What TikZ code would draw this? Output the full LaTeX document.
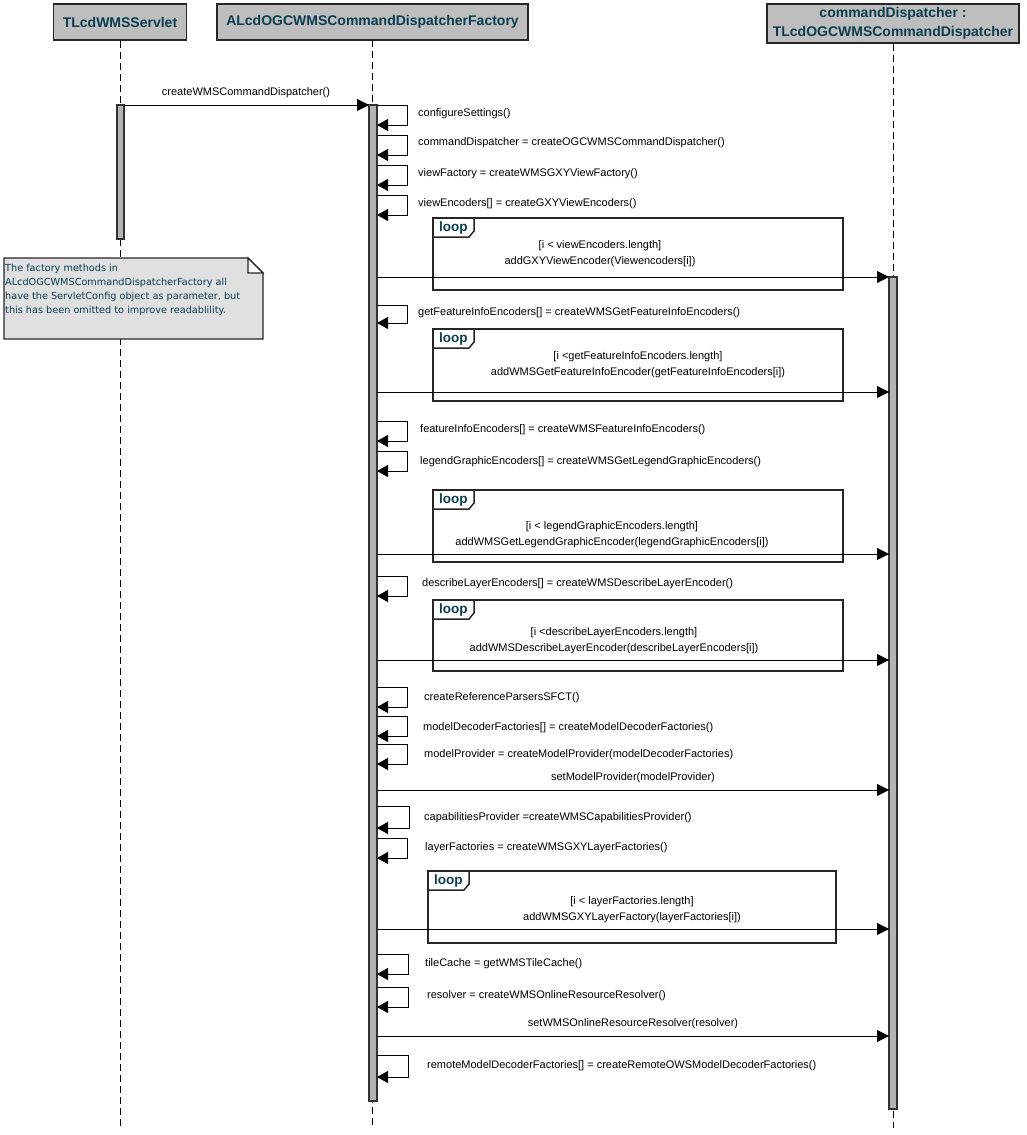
\documentclass[tikz,border=0pt]{standalone}
\usepackage{fontspec}
\setmainfont{Liberation Sans}
\newfontfamily\notefont{DejaVu Sans}
\usetikzlibrary{arrows.meta}
\definecolor{bleunuit}{HTML}{0A3D50}
\definecolor{gristete}{HTML}{BEBEBE}
\definecolor{grisbarre}{HTML}{B4B4B4}
\definecolor{grisnote}{HTML}{E0E0E0}

\begin{document}
\begin{tikzpicture}[x=1pt,y=-1pt,
  tete/.style={draw=black!85,line width=1.6pt,fill=gristete,text=bleunuit,
    font=\bfseries\fontsize{14}{19}\selectfont,inner sep=0pt,align=center},
  vie/.style={line width=0.8pt,dash pattern=on 7pt off 4pt},
  barre/.style={draw=black!80,line width=1.3pt,fill=grisbarre},
  fleche/.style={line width=0.9pt,-{Triangle[length=12pt,width=12pt]}},
  appel/.style={line width=0.9pt,-{Triangle[length=11pt,width=12pt]}},
  lbl/.style={font=\fontsize{11}{16}\selectfont,inner sep=0pt,anchor=west},
  garde/.style={font=\fontsize{11}{16}\selectfont,inner sep=0pt,align=center},
  cadre/.style={draw=black!85,line width=1.5pt},
  etiq/.style={font=\bfseries\fontsize{13.5}{15}\selectfont,text=bleunuit,inner sep=0pt,anchor=west}]
  \useasboundingbox (0,0) rectangle (1026,1135);
  % objets
  \node[tete,minimum width=133pt,minimum height=36pt] (servlet) at (120,22) {TLcdWMSServlet};
  \node[tete,minimum width=311pt,minimum height=36pt] (usine) at (372.5,22) {ALcdOGCWMSCommandDispatcherFactory};
  \node[tete,minimum width=252pt,minimum height=39pt] (disp) at (893,23.5) {commandDispatcher :\\TLcdOGCWMSCommandDispatcher};
  % lignes de vie
  \coordinate (fin) at (0,1128);
  \draw[vie] (servlet.south) -- (servlet.south |- fin);
  \draw[vie] (372,40) coordinate (u0) -- (u0 |- fin);
  \draw[vie] (disp.south) -- (disp.south |- fin);
  % note
  \draw[draw=black!85,line width=1.2pt,fill=grisnote] (4,258) -- (248,258) -- (263,273) -- (263,339) -- (4,339) -- cycle;
  \draw[draw=black!85,line width=1.2pt,fill=white] (248,258) -- (263,273) -- (248,273) -- cycle;
  \node[anchor=north west,inner sep=0pt,align=left,text=bleunuit,font=\notefont\fontsize{9.7}{14}\selectfont] (note) at (5,264)
    {The factory methods in\\ALcdOGCWMSCommandDispatcherFactory all\\have the ServletConfig object as parameter, but\\this has been omitted to improve readablility.};
  % activations
  \draw[barre] (117,105) rectangle (124,239);
  \draw[barre] (369,105) rectangle (377,1101);
  \draw[barre] (889,277) rectangle (897,1109);
  % premier message
  \coordinate (m0a) at (124,105); \coordinate (m0b) at (369,105);
  \draw[fleche] (m0a) -- (m0b);
  \node[garde] (t0) at (246,93) {createWMSCommandDispatcher()};
  % appels internes
  \coordinate (a1) at (377,105); \coordinate (b1) at (377,125);
  \draw[appel] (a1) -- ++(30,0) |- (b1);
  \node[lbl] (l1) at (418,114) {configureSettings()};
  \coordinate (a2) at (377,135); \coordinate (b2) at (377,155);
  \draw[appel] (a2) -- ++(30,0) |- (b2);
  \node[lbl] (l2) at (418,143) {commandDispatcher = createOGCWMSCommandDispatcher()};
  \coordinate (a3) at (377,165); \coordinate (b3) at (377,185);
  \draw[appel] (a3) -- ++(30,0) |- (b3);
  \node[lbl] (l3) at (418,174) {viewFactory = createWMSGXYViewFactory()};
  \coordinate (a4) at (377,195); \coordinate (b4) at (377,215);
  \draw[appel] (a4) -- ++(30,0) |- (b4);
  \node[lbl] (l4) at (418,204) {viewEncoders[] = createGXYViewEncoders()};
  % boucle 1
  \draw[cadre] (433,218) rectangle (843,290);
  \draw[cadre,fill=white] (433,218) -- ++(41,0) -- ++(0,13) -- ++(-5,6) -- ++(-36,0) -- cycle;
  \node[etiq] (g1) at (439,228) {loop};
  \node[garde] (c1) at (600,254) {[i < viewEncoders.length]\\addGXYViewEncoder(Viewencoders[i])};
  \coordinate (m1a) at (377,277); \coordinate (m1b) at (889,277);
  \draw[fleche] (m1a) -- (m1b);
  \coordinate (a5) at (377,305); \coordinate (b5) at (377,323);
  \draw[appel] (a5) -- ++(30,0) |- (b5);
  \node[lbl] (l5) at (418,313) {getFeatureInfoEncoders[] = createWMSGetFeatureInfoEncoders()};
  % boucle 2
  \draw[cadre] (433,329) rectangle (843,401);
  \draw[cadre,fill=white] (433,329) -- ++(41,0) -- ++(0,13) -- ++(-5,6) -- ++(-36,0) -- cycle;
  \node[etiq] (g2) at (439,339) {loop};
  \node[garde] (c2) at (638,365) {[i <getFeatureInfoEncoders.length]\\addWMSGetFeatureInfoEncoder(getFeatureInfoEncoders[i])};
  \coordinate (m2a) at (377,392); \coordinate (m2b) at (889,392);
  \draw[fleche] (m2a) -- (m2b);
  \coordinate (a6) at (377,421); \coordinate (b6) at (377,441);
  \draw[appel] (a6) -- ++(30,0) |- (b6);
  \node[lbl] (l6) at (420,430) {featureInfoEncoders[] = createWMSFeatureInfoEncoders()};
  \coordinate (a7) at (377,451); \coordinate (b7) at (377,471);
  \draw[appel] (a7) -- ++(30,0) |- (b7);
  \node[lbl] (l7) at (420,462) {legendGraphicEncoders[] = createWMSGetLegendGraphicEncoders()};
  % boucle 3
  \draw[cadre] (433,490) rectangle (843,562);
  \draw[cadre,fill=white] (433,490) -- ++(41,0) -- ++(0,13) -- ++(-5,6) -- ++(-36,0) -- cycle;
  \node[etiq] (g3) at (439,500) {loop};
  \node[garde] (c3) at (612,535) {[i < legendGraphicEncoders.length]\\addWMSGetLegendGraphicEncoder(legendGraphicEncoders[i])};
  \coordinate (m3a) at (377,554); \coordinate (m3b) at (889,554);
  \draw[fleche] (m3a) -- (m3b);
  \coordinate (a8) at (377,576); \coordinate (b8) at (377,596);
  \draw[appel] (a8) -- ++(30,0) |- (b8);
  \node[lbl] (l8) at (422,584) {describeLayerEncoders[] = createWMSDescribeLayerEncoder()};
  % boucle 4
  \draw[cadre] (433,600) rectangle (843,671);
  \draw[cadre,fill=white] (433,600) -- ++(41,0) -- ++(0,13) -- ++(-5,6) -- ++(-36,0) -- cycle;
  \node[etiq] (g4) at (439,610) {loop};
  \node[garde] (c4) at (614,641) {[i <describeLayerEncoders.length]\\addWMSDescribeLayerEncoder(describeLayerEncoders[i])};
  \coordinate (m4a) at (377,660); \coordinate (m4b) at (889,660);
  \draw[fleche] (m4a) -- (m4b);
  \coordinate (a9) at (377,687); \coordinate (b9) at (377,707);
  \draw[appel] (a9) -- ++(30,0) |- (b9);
  \node[lbl] (l9) at (424,698) {createReferenceParsersSFCT()};
  \coordinate (a10) at (377,716); \coordinate (b10) at (377,736);
  \draw[appel] (a10) -- ++(30,0) |- (b10);
  \node[lbl] (l10) at (423,728) {modelDecoderFactories[] = createModelDecoderFactories()};
  \coordinate (a11) at (377,744); \coordinate (b11) at (377,764);
  \draw[appel] (a11) -- ++(30,0) |- (b11);
  \node[lbl] (l11) at (424,755) {modelProvider = createModelProvider(modelDecoderFactories)};
  \coordinate (m5a) at (377,790); \coordinate (m5b) at (889,790);
  \draw[fleche] (m5a) -- (m5b);
  \node[garde] (t5) at (633,778) {setModelProvider(modelProvider)};
  \coordinate (a12) at (377,806); \coordinate (b12) at (377,828);
  \draw[appel] (a12) -- ++(32,0) |- (b12);
  \node[lbl] (l12) at (424,818) {capabilitiesProvider =createWMSCapabilitiesProvider()};
  \coordinate (a13) at (377,838); \coordinate (b13) at (377,858);
  \draw[appel] (a13) -- ++(30,0) |- (b13);
  \node[lbl] (l13) at (425,848) {layerFactories = createWMSGXYLayerFactories()};
  % boucle 5
  \draw[cadre] (428,871) rectangle (836,943);
  \draw[cadre,fill=white] (428,871) -- ++(41,0) -- ++(0,13) -- ++(-5,6) -- ++(-36,0) -- cycle;
  \node[etiq] (g5) at (434,881) {loop};
  \node[garde] (c5) at (632,910) {[i < layerFactories.length]\\addWMSGXYLayerFactory(layerFactories[i])};
  \coordinate (m6a) at (377,929); \coordinate (m6b) at (889,929);
  \draw[fleche] (m6a) -- (m6b);
  \coordinate (a14) at (377,954); \coordinate (b14) at (377,974);
  \draw[appel] (a14) -- ++(31,0) |- (b14);
  \node[lbl] (l14) at (425,964) {tileCache = getWMSTileCache()};
  \coordinate (a15) at (377,987); \coordinate (b15) at (377,1007);
  \draw[appel] (a15) -- ++(31,0) |- (b15);
  \node[lbl] (l15) at (427,996) {resolver = createWMSOnlineResourceResolver()};
  \coordinate (m7a) at (377,1036); \coordinate (m7b) at (889,1036);
  \draw[fleche] (m7a) -- (m7b);
  \node[garde] (t7) at (633,1024) {setWMSOnlineResourceResolver(resolver)};
  \coordinate (a16) at (377,1055); \coordinate (b16) at (377,1077);
  \draw[appel] (a16) -- ++(31,0) |- (b16);
  \node[lbl] (l16) at (427,1066) {remoteModelDecoderFactories[] = createRemoteOWSModelDecoderFactories()};
\end{tikzpicture}
\end{document}
